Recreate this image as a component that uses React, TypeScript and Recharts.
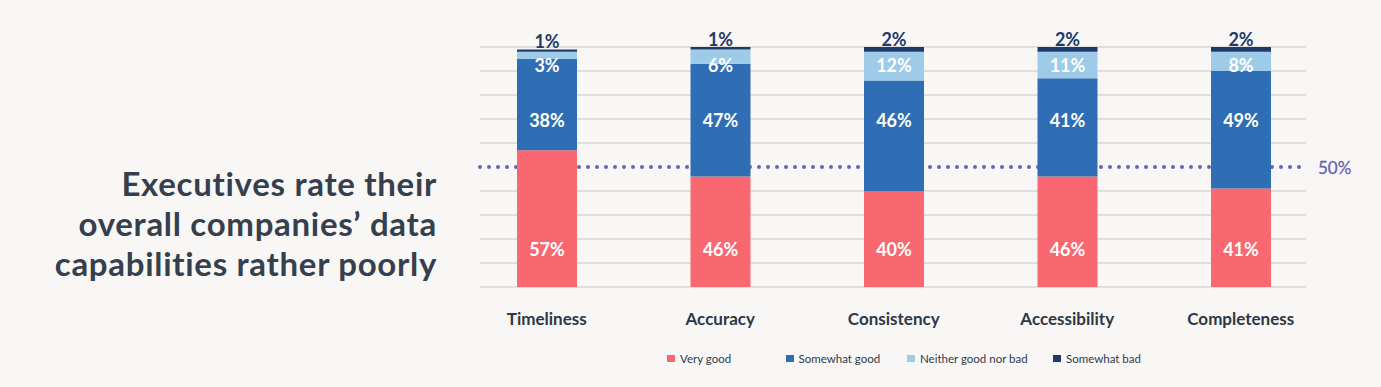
import { Bar, BarChart, LabelList, ReferenceLine, XAxis, YAxis } from "recharts"

const categories = ["Timeliness", "Accuracy", "Consistency", "Accessibility", "Completeness"]
const veryGood = [57, 46, 40, 46, 41]
const somewhatGood = [38, 47, 46, 41, 49]
const neitherGoodNorBad = [3, 6, 12, 11, 8]
const somewhatBad = [1, 1, 2, 2, 2]
const yTicks = [0, 10, 20, 30, 40, 50, 60, 70, 80, 90, 100]
const threshold = 50
const titleLines = ["Executives rate their", "overall companies’ data", "capabilities rather poorly"]

const series = [
  { key: "veryGood", name: "Very good", color: "#f96771" },
  { key: "somewhatGood", name: "Somewhat good", color: "#2f6eb5" },
  { key: "neitherGoodNorBad", name: "Neither good nor bad", color: "#9dcbe8" },
  { key: "somewhatBad", name: "Somewhat bad", color: "#1f3a69" },
]

const data = categories.map((category, i) => ({
  category,
  veryGood: veryGood[i],
  somewhatGood: somewhatGood[i],
  neitherGoodNorBad: neitherGoodNorBad[i],
  somewhatBad: somewhatBad[i],
}))

const W = 1381
const H = 387
const PLOT_TOP = 47
const PLOT_BOTTOM = 287
const PLOT_LEFT = 460
const PLOT_RIGHT = 1327.5
const X_AXIS_H = 30
const GRID_INSET_L = 20
const GRID_INSET_R = 21.5
const FONT = "Lato, 'Open Sans', sans-serif"
const INK = "#2d3747"
const PURPLE = "#6a60b6"

// label rows sit at fixed heights inside the plot, like the original
const insideLabelY: Record<string, number> = {
  veryGood: PLOT_BOTTOM - 38,
  somewhatGood: PLOT_TOP + 73,
  neitherGoodNorBad: PLOT_TOP + 17.5,
}
const legendX = [667, 785.5, 907, 1053]

function insideLabel(seriesKey: string) {
  return (props: any) => {
    const vb = props.viewBox ?? props
    const x = Number(vb.x ?? props.x)
    const w = Number(vb.width ?? props.width)
    return (
      <text
        x={x + w / 2}
        y={insideLabelY[seriesKey]}
        textAnchor="middle"
        dominantBaseline="central"
        fill="#ffffff"
        fontFamily={FONT}
        fontWeight={700}
        fontSize={18}
      >
        {props.value}%
      </text>
    )
  }
}

function topLabel(props: any) {
  const vb = props.viewBox ?? props
  const x = Number(vb.x ?? props.x)
  const y = Number(vb.y ?? props.y)
  const w = Number(vb.width ?? props.width)
  return (
    <text
      x={x + w / 2}
      y={y - 8.5}
      textAnchor="middle"
      dominantBaseline="central"
      fill="#22396a"
      fontFamily={FONT}
      fontWeight={700}
      fontSize={18}
    >
      {props.value}%
    </text>
  )
}

function gridShape(props: any) {
  return (
    <line
      x1={Number(props.x1) + GRID_INSET_L}
      x2={Number(props.x2) - GRID_INSET_R}
      y1={props.y1}
      y2={props.y2}
      stroke="#c9c8c6"
      strokeWidth={1.2}
    />
  )
}

function thresholdShape(props: any) {
  const x1 = Number(props.x1) + GRID_INSET_L
  const x2 = Number(props.x2) - GRID_INSET_R
  const y = Number(props.y1)
  return (
    <g>
      <line
        x1={x1}
        x2={x2}
        y1={y}
        y2={y}
        stroke={PURPLE}
        strokeWidth={4}
        strokeLinecap="round"
        strokeDasharray="0 9"
      />
      <text
        x={x2 + 12}
        y={y}
        dominantBaseline="central"
        fill={PURPLE}
        fontFamily={FONT}
        fontSize={17}
        stroke={PURPLE}
        strokeWidth={0.3}
      >
        {threshold}%
      </text>
    </g>
  )
}

function CategoryTick(props: any) {
  return (
    <text
      x={props.x}
      y={props.y + 31}
      textAnchor="middle"
      dominantBaseline="central"
      fill={INK}
      fontFamily={FONT}
      fontWeight={700}
      fontSize={17}
    >
      {props.payload.value}
    </text>
  )
}

export default function App() {
  return (
    <div
      style={{
        position: "absolute",
        left: 0,
        top: 0,
        width: W,
        height: H,
        background: "#f8f7f5",
        overflow: "hidden",
        fontFamily: FONT,
      }}
    >
      <div
        style={{
          position: "absolute",
          right: W - 437,
          top: 163,
          textAlign: "right",
          fontSize: 33,
          lineHeight: "40px",
          fontWeight: 700,
          letterSpacing: 0.7,
          color: "#353f4e",
          whiteSpace: "nowrap",
        }}
      >
        {titleLines.map((t) => (
          <div key={t}>{t}</div>
        ))}
      </div>

      <div style={{ position: "absolute", left: 0, top: 0 }}>
        <BarChart
          width={W}
          height={H}
          data={data}
          margin={{
            top: PLOT_TOP,
            bottom: H - PLOT_BOTTOM - X_AXIS_H,
            left: PLOT_LEFT,
            right: W - PLOT_RIGHT,
          }}
        >
          <XAxis
            dataKey="category"
            height={X_AXIS_H}
            axisLine={false}
            tickLine={false}
            tickSize={0}
            tickMargin={0}
            tick={<CategoryTick />}
            interval={0}
          />
          <YAxis width={0} domain={[0, 100]} ticks={yTicks} tick={false} axisLine={false} tickLine={false} />
          {yTicks
            .filter((v) => v !== threshold)
            .map((v) => (
              <ReferenceLine key={v} y={v} shape={gridShape} zIndex={-60} />
            ))}
          <ReferenceLine y={threshold} shape={thresholdShape} zIndex={-50} />
          {series.map((s, i) => (
            <Bar
              key={s.key}
              dataKey={s.key}
              stackId="a"
              fill={s.color}
              barSize={60}
              isAnimationActive={false}
            >
              {i < 3 ? (
                <LabelList dataKey={s.key} content={insideLabel(s.key)} />
              ) : (
                <LabelList dataKey={s.key} content={topLabel} />
              )}
            </Bar>
          ))}
        </BarChart>
      </div>

      {series.map((s, i) => (
        <div
          key={s.key}
          style={{
            position: "absolute",
            left: legendX[i],
            top: 350,
            height: 16,
            display: "flex",
            alignItems: "center",
            fontSize: 11.5,
            color: "#2f3949",
            whiteSpace: "nowrap",
          }}
        >
          <span style={{ width: 8, height: 7, background: s.color, marginRight: 5, display: "inline-block" }} />
          {s.name}
        </div>
      ))}
    </div>
  )
}
